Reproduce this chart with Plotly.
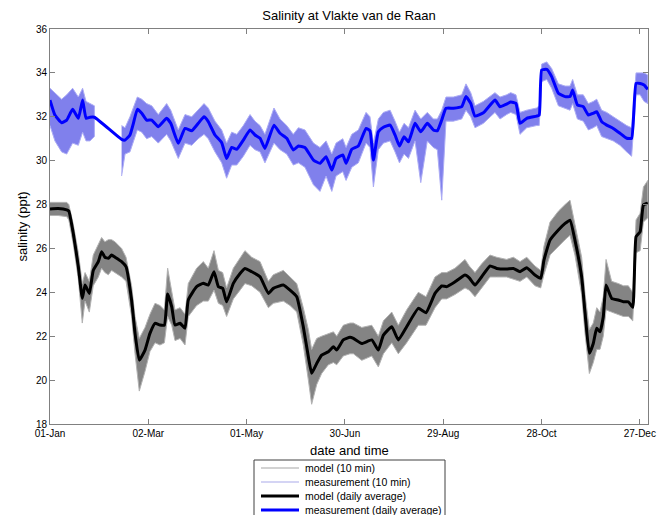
import pandas as pd
import plotly.graph_objects as go

# ---------------- data ----------------
start_date = "2015-01-01"

model_days = [0, 5, 10.2, 11.5, 14.2, 17.3, 19.7, 21.4, 24, 26.4, 29.5, 31.5, 33.5, 35.6, 37.6, 39.7,
              43.7, 46.4, 49.8, 51.9, 54.5, 58, 61, 64.1, 67.1, 69.8, 71.8, 74.3, 76.3, 79.4, 82.4,
              84.4, 89.5, 93.6, 96.6, 100.1, 102.8, 105.4, 107.8, 111.9, 116, 119, 123.1, 128.2,
              133.3, 136.3, 142.4, 146.5, 150.6, 154.6, 157.7, 159.7, 162.8, 165.8, 169.9, 173, 175,
              179, 183.1, 185.2, 190.3, 196.4, 200.4, 203.5, 208.6, 212.6, 217.7, 224.8, 229.5, 235,
              239.1, 242.1, 247.2, 253.3, 255.9, 259.4, 263.5, 268.6, 272.6, 278.7, 282.8, 286.9,
              291, 296, 299.5, 301.5, 305.2, 310.3, 314.4, 317.4, 320.4, 324.5, 326.6, 329.2, 331.6,
              333.7, 335.7, 337.7, 339.4, 342.8, 346.9, 350, 353, 355.7, 357.7, 360.2, 362.2, 364.9]

model_daily_avg = [27.80, 27.82, 27.76, 27.70, 26.69, 25.17, 23.73, 24.33, 23.95, 25.00, 25.40, 25.85,
                   25.60, 25.55, 25.70, 25.60, 25.40, 25.17, 23.65, 22.13, 20.91, 21.37, 22.13, 22.59,
                   22.51, 22.51, 23.92, 23.34, 22.51, 22.59, 22.36, 23.65, 24.26, 24.41, 24.33, 24.94,
                   24.26, 24.18, 23.57, 24.41, 24.86, 25.09, 24.94, 24.71, 23.95, 24.18, 24.33, 24.10,
                   23.80, 22.43, 21.06, 20.31, 20.76, 21.14, 21.29, 21.52, 21.37, 21.83, 21.95, 21.90,
                   21.67, 21.83, 21.37, 22.05, 22.43, 21.83, 22.43, 23.27, 23.07, 23.95, 24.29, 24.26,
                   24.48, 24.79, 24.66, 24.33, 24.71, 25.20, 25.09, 25.06, 25.09, 24.94, 25.12, 24.79,
                   24.64, 25.47, 26.38, 26.84, 27.14, 27.29, 26.38, 24.71, 23.04, 21.22, 21.67, 22.36,
                   22.20, 22.89, 24.33, 23.73, 23.65, 23.57, 23.57, 23.32, 26.53, 26.76, 27.98, 28.06]

model_10min_low = [27.5, 27.5, 27.45, 27.3, 26.2, 24.6, 22.6, 23.6, 23.1, 24.3, 24.7, 25.1, 24.9, 24.8,
                   25.0, 24.9, 24.7, 24.5, 22.9, 21.2, 19.5, 20.4, 21.3, 21.7, 21.6, 21.7, 22.9, 22.5,
                   21.8, 21.9, 21.6, 22.9, 23.4, 23.6, 23.6, 24.1, 23.5, 23.4, 22.9, 23.7, 24.1, 24.4,
                   24.3, 24.0, 23.3, 23.5, 23.6, 23.4, 23.1, 21.6, 20.0, 18.9, 19.8, 20.3, 20.7, 20.8,
                   20.7, 21.1, 21.2, 21.2, 20.9, 21.1, 20.6, 21.2, 21.7, 21.2, 21.7, 22.5, 22.5, 23.3,
                   23.7, 23.7, 23.9, 24.2, 24.1, 23.8, 24.2, 24.7, 24.7, 24.7, 24.6, 24.5, 24.7, 24.3,
                   24.2, 24.8, 25.7, 26.1, 26.4, 26.6, 25.7, 23.9, 22.1, 20.3, 20.8, 21.4, 21.4, 22.0,
                   23.2, 23.1, 23.0, 22.9, 22.9, 22.7, 25.8, 25.9, 27.2, 27.4]

model_10min_high = [28.1, 28.1, 28.1, 28.0, 27.1, 25.8, 24.4, 24.9, 24.5, 25.7, 26.2, 26.5, 26.3, 26.4,
                    26.4, 26.3, 26.0, 25.6, 24.3, 22.9, 21.9, 22.4, 23.0, 23.5, 23.4, 23.2, 25.1, 24.0,
                    23.2, 23.3, 23.0, 24.4, 25.1, 25.4, 25.1, 25.9, 25.0, 24.9, 24.2, 25.1, 25.6, 25.9,
                    25.6, 25.4, 24.5, 24.8, 25.0, 24.7, 24.4, 23.3, 22.3, 21.4, 21.9, 22.0, 22.1, 22.2,
                    22.0, 22.5, 22.6, 22.6, 22.4, 22.5, 22.0, 22.7, 23.1, 22.5, 23.2, 24.0, 23.8, 24.7,
                    24.9, 24.9, 25.1, 25.5, 25.2, 24.9, 25.3, 25.7, 25.6, 25.5, 25.6, 25.4, 25.6, 25.2,
                    25.0, 26.1, 27.2, 27.7, 28.0, 28.2, 27.1, 25.6, 23.9, 22.3, 22.6, 23.3, 23.1, 23.8,
                    25.5, 24.5, 24.4, 24.3, 24.3, 24.0, 27.3, 27.6, 28.8, 29.1]

meas_days = [0, 3, 7.1, 10.2, 13.8, 17.3, 19.9, 22, 24.4, 27.1, 43.7, 45.8, 48.8, 50.9, 53.3, 56, 59,
             62.1, 66.1, 71.2, 73.7, 78.3, 82.4, 86.5, 90.5, 94, 96.6, 100.7, 104.8, 107.8, 110.9, 114,
             118, 122.1, 125.1, 128.2, 131.2, 136.7, 140.4, 144.5, 148.5, 151.6, 155.6, 160.8, 164.8,
             168.5, 172, 174.6, 178.7, 180.7, 184.2, 188.2, 192.9, 195.3, 197.4, 200.4, 203.5, 207.6,
             210.6, 213.3, 216.1, 218.8, 222.8, 226.3, 230.3, 234, 236.4, 239.1, 241.7, 246.2, 251.3,
             253.9, 256.8, 259.4, 264.5, 271.6, 274.7, 278.7, 281.2, 284.4, 286.9, 291, 297, 298.6,
             300.1, 303.2, 306.2, 310.3, 314.4, 317.4, 319, 321.9, 325.5, 328.6, 331.6, 333.7, 336.7,
             339.8, 343.8, 347.9, 352, 355, 357.7, 360.2, 362.6, 364.9]

meas_daily_avg = [32.76, 32.08, 31.73, 31.85, 32.34, 31.93, 32.76, 31.93, 31.98, 31.98, 30.97, 30.94,
                  31.17, 31.70, 32.34, 32.16, 31.85, 31.85, 31.55, 31.93, 31.70, 30.79, 31.47, 31.36,
                  31.70, 32.00, 31.78, 31.17, 30.82, 30.10, 30.60, 30.52, 30.94, 31.40, 31.17, 31.02,
                  30.56, 31.62, 31.25, 31.02, 30.49, 30.67, 30.60, 30.03, 29.88, 30.18, 29.57, 30.10,
                  30.26, 29.88, 30.52, 30.67, 31.47, 31.36, 30.03, 31.32, 31.52, 31.62, 31.17, 30.67,
                  31.09, 30.86, 31.70, 31.32, 31.70, 31.40, 31.36, 31.85, 32.39, 32.39, 32.46, 32.92,
                  32.61, 32.03, 32.18, 32.76, 32.46, 32.58, 32.67, 32.61, 31.70, 31.93, 32.03, 32.08,
                  34.13, 34.16, 33.83, 33.07, 32.92, 32.92, 33.22, 32.54, 32.46, 32.08, 32.16, 32.23,
                  31.78, 31.62, 31.47, 31.25, 31.02, 31.02, 33.52, 33.52, 33.45, 33.25]

meas_10min_low = [31.6, 30.9, 30.4, 30.3, 30.8, 30.7, 31.3, 30.9, 30.9, 31.1, 29.3, 30.3, 30.4, 30.9,
                  31.4, 31.3, 31.0, 31.1, 30.8, 31.2, 30.9, 30.1, 30.8, 30.7, 31.0, 31.2, 31.0, 30.4,
                  29.9, 29.2, 29.8, 29.8, 30.2, 30.7, 30.5, 30.4, 29.9, 30.8, 30.5, 30.3, 29.8, 29.9,
                  29.7, 28.9, 28.6, 29.3, 28.6, 29.3, 29.5, 29.1, 29.7, 29.9, 30.8, 30.6, 28.8, 30.5,
                  30.8, 30.9, 30.4, 29.9, 30.3, 30.1, 30.9, 29.0, 30.9, 30.6, 30.5, 28.2, 31.8, 31.8,
                  31.9, 32.3, 32.0, 31.5, 31.7, 32.2, 31.9, 32.1, 32.2, 32.1, 31.2, 31.5, 31.6, 31.6,
                  33.6, 33.7, 33.3, 32.5, 32.4, 32.3, 32.6, 31.9, 31.8, 31.4, 31.5, 31.6, 31.1, 31.0,
                  30.9, 30.7, 30.4, 30.2, 33.0, 33.0, 32.7, 32.6]

meas_10min_high = [33.3, 33.1, 32.8, 33.0, 33.3, 32.9, 33.3, 32.7, 32.6, 32.5, 31.6, 31.5, 32.0, 32.4,
                   32.9, 32.8, 32.6, 32.5, 32.1, 32.6, 32.3, 31.4, 32.1, 32.0, 32.3, 32.6, 32.4, 31.8,
                   31.4, 30.8, 31.3, 31.2, 31.6, 32.1, 31.8, 31.6, 31.2, 32.4, 31.9, 31.6, 31.2, 31.5,
                   31.4, 30.8, 30.6, 30.9, 30.3, 30.8, 31.0, 30.6, 31.2, 31.4, 32.2, 32.0, 30.8, 31.9,
                   32.2, 32.3, 31.8, 31.3, 31.7, 31.5, 32.3, 31.9, 32.2, 31.9, 31.9, 32.3, 32.9, 32.9,
                   33.0, 33.5, 33.1, 32.5, 32.7, 33.1, 32.9, 33.0, 33.1, 33.0, 32.2, 32.3, 32.4, 32.5,
                   34.4, 34.5, 34.2, 33.5, 33.4, 33.4, 33.7, 33.0, 33.0, 32.6, 32.7, 32.8, 32.3, 32.2,
                   32.0, 31.8, 31.6, 31.5, 34.0, 34.0, 34.0, 33.9]

meas_gap = (28, 43)  # no 10-min measurements in this day window

y_ticks = [18, 20, 22, 24, 26, 28, 30, 32, 34, 36]
legend_names = ["model (10 min)", "measurement (10 min)", "model (daily average)",
                "measurement (daily average)"]

# ---------------- styles ----------------
FONT = "Liberation Sans, Arial, Helvetica, sans-serif"
AX_COL = "#808080"
legend_colors = ["#d2d2d2", "#d4d4f4", "#000000", "#0000ff"]
legend_widths = [2, 2, 3, 3]

base = pd.Timestamp(start_date)


def to_dates(days):
    return [base + pd.to_timedelta(d, unit="D") for d in days]


def band_polygon(days, lo, hi, gap=None):
    xs, ys = [], []
    segs = []
    cur = []
    for i, d in enumerate(days):
        if gap is not None and cur and days[cur[-1]] < gap[0] and d > gap[1]:
            segs.append(cur)
            cur = []
        cur.append(i)
    segs.append(cur)
    for k, seg in enumerate(segs):
        if k > 0:
            xs.append(None)
            ys.append(None)
        xs += to_dates([days[i] for i in seg]) + to_dates([days[i] for i in reversed(seg)])
        ys += [hi[i] for i in seg] + [lo[i] for i in reversed(seg)]
    return xs, ys


fig = go.Figure()

mx, my = band_polygon(model_days, model_10min_low, model_10min_high)
fig.add_trace(go.Scatter(x=mx, y=my, mode="lines", fill="toself",
                         fillcolor="rgb(132,132,132)",
                         line=dict(color="rgb(178,178,178)", width=1),
                         name=legend_names[0], showlegend=False, hoverinfo="skip"))

sx, sy = band_polygon(meas_days, meas_10min_low, meas_10min_high, gap=meas_gap)
fig.add_trace(go.Scatter(x=sx, y=sy, mode="lines", fill="toself",
                         fillcolor="rgb(128,128,236)",
                         line=dict(color="rgb(172,172,245)", width=1),
                         name=legend_names[1], showlegend=False, hoverinfo="skip",
                         connectgaps=False))

fig.add_trace(go.Scatter(x=to_dates(model_days), y=model_daily_avg, mode="lines",
                         line=dict(color="#000000", width=3, shape="spline", smoothing=0.4),
                         name=legend_names[2], showlegend=False))
fig.add_trace(go.Scatter(x=to_dates(meas_days), y=meas_daily_avg, mode="lines",
                         line=dict(color="#0000ff", width=3, shape="spline", smoothing=0.4),
                         name=legend_names[3], showlegend=False))

# ---------------- layout ----------------
W, H = 669, 515
L, R, T, B = 50, 21, 29, 91
PW, PH = W - L - R, H - T - B


def px(xp):
    return (xp - L) / PW


def py(yp):
    return (H - B - yp) / PH


axis_common = dict(showline=True, linecolor=AX_COL, linewidth=1, mirror="allticks",
                   ticks="inside", ticklen=5, tickcolor=AX_COL, showgrid=False,
                   zeroline=False, tickfont=dict(family=FONT, size=10, color="#000"))

fig.update_layout(
    width=W, height=H,
    margin=dict(l=L, r=R, t=T, b=B, autoexpand=False),
    paper_bgcolor="white", plot_bgcolor="white",
    font=dict(family=FONT, color="#000"),
    title=dict(text="Salinity at Vlakte van de Raan", x=px(349), xref="paper",
               xanchor="center", y=1 - 15 / H, yanchor="middle",
               font=dict(family=FONT, size=13, color="#000")),
    xaxis=dict(type="date", range=[base, base + pd.to_timedelta(365, unit="D")],
               tick0=base, dtick=60 * 86400000, tickformat="%d-%b", **axis_common),
    yaxis=dict(range=[y_ticks[0], y_ticks[-1]], tickvals=y_ticks, **axis_common),
    showlegend=False,
)

annotations = [
    dict(text="date and time", x=0.5, y=py(451), xref="paper", yref="paper",
         showarrow=False, xanchor="center", yanchor="middle",
         font=dict(family=FONT, size=13, color="#000")),
    dict(text="salinity (ppt)", x=px(22), y=py(226.5), xref="paper", yref="paper",
         showarrow=False, xanchor="center", yanchor="middle", textangle=-90,
         font=dict(family=FONT, size=13, color="#000")),
]

shapes = [dict(type="rect", xref="paper", yref="paper", x0=px(254), x1=px(445),
               y0=py(460), y1=py(530), line=dict(color="#404040", width=1),
               fillcolor="white", layer="above")]

row_y = [468, 482, 496, 510]
for name, col, wd, ry in zip(legend_names, legend_colors, legend_widths, row_y):
    shapes.append(dict(type="line", xref="paper", yref="paper", x0=px(261), x1=px(299),
                       y0=py(ry), y1=py(ry), line=dict(color=col, width=wd), layer="above"))
    annotations.append(dict(text=name, x=px(303), y=py(ry), xref="paper", yref="paper",
                            showarrow=False, xanchor="left", yanchor="middle",
                            font=dict(family=FONT, size=10.5, color="#000")))

fig.update_layout(annotations=annotations, shapes=shapes)

fig.write_html("out.html")
